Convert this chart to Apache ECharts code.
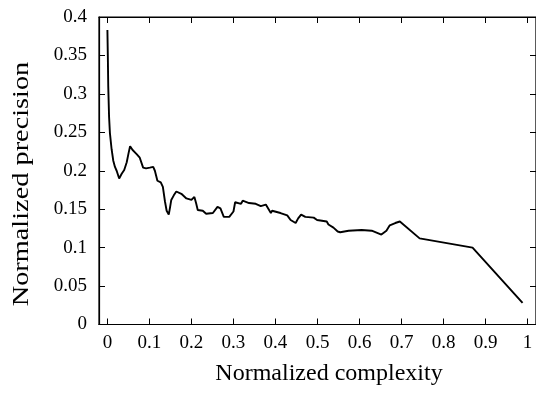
<!DOCTYPE html>
<html>
<head>
<meta charset="utf-8">
<script src="https://cdn.jsdelivr.net/npm/echarts@6/dist/echarts.min.js"></script>
<style>
  html, body { margin: 0; padding: 0; background: #fff; }
  #chart { width: 536px; height: 393px; }
</style>
</head>
<body>
<div id="chart"></div>
<script>
// normalized complexity (x) and normalized precision (y)
const complexity = [
  0, 0.001, 0.002, 0.004, 0.006, 0.010, 0.014, 0.018, 0.022, 0.028,
  0.034, 0.040, 0.046, 0.050, 0.054, 0.060, 0.069, 0.077, 0.085, 0.092,
  0.101, 0.109, 0.113, 0.119, 0.127, 0.132, 0.137, 0.141, 0.146, 0.149,
  0.152, 0.158, 0.164, 0.176, 0.188, 0.200, 0.207, 0.211, 0.215, 0.227,
  0.235, 0.251, 0.262, 0.269, 0.277, 0.290, 0.300, 0.304, 0.318, 0.322,
  0.337, 0.353, 0.365, 0.377, 0.389, 0.392, 0.412, 0.428, 0.436, 0.448,
  0.454, 0.461, 0.471, 0.491, 0.499, 0.522, 0.526, 0.538, 0.548, 0.554,
  0.574, 0.605, 0.629, 0.652, 0.664, 0.672, 0.685, 0.696, 0.743, 0.869,
  0.988
];
const precision = [
  0.383, 0.350, 0.310, 0.270, 0.249, 0.228, 0.213, 0.205, 0.200, 0.190,
  0.196, 0.201, 0.211, 0.222, 0.232, 0.227, 0.222, 0.217, 0.204, 0.203,
  0.204, 0.205, 0.200, 0.187, 0.185, 0.179, 0.160, 0.148, 0.143, 0.152,
  0.162, 0.168, 0.173, 0.170, 0.164, 0.162, 0.166, 0.158, 0.149, 0.148,
  0.144, 0.145, 0.153, 0.151, 0.140, 0.140, 0.147, 0.159, 0.157, 0.161,
  0.158, 0.157, 0.154, 0.156, 0.145, 0.148, 0.145, 0.142, 0.136, 0.132,
  0.138, 0.143, 0.140, 0.139, 0.136, 0.134, 0.130, 0.126, 0.121, 0.120,
  0.122, 0.123, 0.122, 0.117, 0.122, 0.129, 0.132, 0.134, 0.112, 0.100,
  0.028
];
const xTicks = [0, 0.1, 0.2, 0.3, 0.4, 0.5, 0.6, 0.7, 0.8, 0.9, 1];
const yTicks = [0, 0.05, 0.1, 0.15, 0.2, 0.25, 0.3, 0.35, 0.4];

const font = 'Liberation Serif';
const fmt = v => String(+(+v).toFixed(2));

const chart = echarts.init(document.getElementById('chart'), null, {renderer: 'canvas'});

const frameLine = {show: true, onZero: false, lineStyle: {color: '#000', width: 1.2}};
const tick = (vals) => ({
  show: true, inside: true, length: 6, customValues: vals,
  lineStyle: {color: '#000', width: 1}
});

const option = {
  backgroundColor: '#fff',
  animation: false,
  grid: {
    left: 99, top: 17, width: 440, height: 307.5, containLabel: false,
    show: true, borderColor: '#000', borderWidth: 1.2, backgroundColor: 'transparent'
  },
  xAxis: [
    {
      type: 'value', min: -0.02, max: 1.02, position: 'bottom',
      axisLine: frameLine,
      axisTick: tick(xTicks),
      splitLine: {show: false},
      axisLabel: {
        customValues: xTicks, formatter: fmt, margin: 9,
        color: '#000', fontFamily: font, fontSize: 19
      }
    },
    {
      type: 'value', min: -0.02, max: 1.02, position: 'top',
      axisLine: frameLine,
      axisTick: tick(xTicks),
      splitLine: {show: false},
      axisLabel: {show: false}
    }
  ],
  yAxis: [
    {
      type: 'value', min: 0, max: 0.4, position: 'left',
      axisLine: frameLine,
      axisTick: tick(yTicks),
      splitLine: {show: false},
      axisLabel: {
        customValues: yTicks, formatter: fmt, margin: 12,
        color: '#000', fontFamily: font, fontSize: 19
      }
    },
    {
      type: 'value', min: 0, max: 0.4, position: 'right',
      axisLine: frameLine,
      axisTick: tick(yTicks),
      splitLine: {show: false},
      axisLabel: {show: false}
    }
  ],
  graphic: [
    {
      type: 'text', x: 329, y: 362,
      style: {
        text: 'Normalized complexity', font: '24px "Liberation Serif"', fill: '#000',
        align: 'center', verticalAlign: 'top'
      }
    },
    {
      type: 'text', x: 10, y: 184, rotation: Math.PI / 2, scaleX: 1.18,
      style: {
        text: 'Normalized precision', font: '24px "Liberation Serif"', fill: '#000',
        align: 'center', verticalAlign: 'top'
      }
    }
  ],
  series: [
    {
      type: 'line',
      data: complexity.map((c, i) => [c, precision[i]]),
      showSymbol: false,
      symbol: 'none',
      lineStyle: {color: '#000', width: 1.9},
      clip: true
    }
  ]
};

chart.setOption(option);
</script>
</body>
</html>
